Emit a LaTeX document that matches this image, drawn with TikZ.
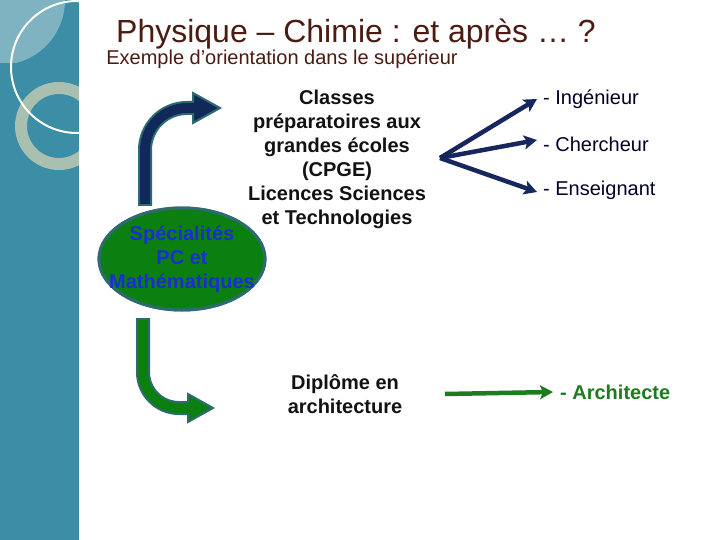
\documentclass[tikz,border=0pt]{standalone}
\usepackage{fontspec}
\setmainfont{Liberation Sans}
\usetikzlibrary{shapes.geometric,arrows.meta}
\definecolor{band}{HTML}{3B8EA5}
\definecolor{bandlight}{HTML}{80B3C1}
\definecolor{ring}{HTML}{A9BFB0}
\definecolor{titlec}{HTML}{4A1C12}
\definecolor{navy}{HTML}{10295A}
\definecolor{edge}{HTML}{2E6B70}
\definecolor{grn}{HTML}{0B7F10}
\definecolor{grnline}{HTML}{1E7B1E}
\definecolor{spblue}{HTML}{1C2ED0}
\definecolor{arrnavy}{HTML}{15275C}
\tikzset{
  txt/.style={font=\fontsize{20}{24}\selectfont, inner sep=0pt},
  boldtxt/.style={font=\fontsize{20}{24}\selectfont\bfseries, inner sep=0pt, align=center, text=black!93},
  navyarrow/.style={draw=arrnavy, line width=4.5pt, -{Stealth[length=13pt,width=14pt,inset=3pt]}},
  greenarrow/.style={draw=grnline, line width=4.5pt, -{Stealth[length=13pt,width=14pt,inset=3pt]}},
}
\begin{document}
\begin{tikzpicture}[x=1pt,y=-1pt]
\useasboundingbox (0,0) rectangle (720,540);
\fill[white] (0,0) rectangle (720,540);
% left decorative band
\fill[band] (0,0) rectangle (79,540);
\begin{scope}
  \clip (0,0) rectangle (79,540);
  \begin{scope}
    \clip (0,0) rectangle (79,63);
    \fill[bandlight] (0,0) -- (65,0) arc[start angle=0, end angle=90, radius=65] -- cycle;
  \end{scope}
  \fill[ring, even odd rule] (59,126) circle[radius=44] (59,126) circle[radius=32];
  \draw[white!96!yellow, line width=2pt] (77,67) circle[radius=66];
\end{scope}
% titles
\node[font=\fontsize{32}{38}\selectfont, text=titlec, inner sep=0pt] (title) at (356,34) {Physique – Chimie : et après … ?};
\node[txt, text=titlec] (subtitle) at (282,59) {Exemple d’orientation dans le supérieur};
% specialty ellipse
\node[ellipse, draw=edge, line width=3pt, fill=grn, minimum width=166pt, minimum height=102pt, inner sep=0pt] (spec) at (182,259) {};
% texts
\node[boldtxt] (cpge) at (337,159) {Classes\\préparatoires aux\\grandes écoles\\(CPGE)\\Licences Sciences\\et Technologies};
\node[boldtxt] (dipl) at (345,394) {Diplôme en\\architecture};
% top curved arrow (navy)
\coordinate (tstart) at (145,206);
\coordinate (tend) at (193,108);
\coordinate (ttip) at (220,108);
\draw[edge, line width=14pt, rounded corners=42pt] (tstart) |- (tend);
\filldraw[fill=navy, draw=edge, line width=2pt, line join=miter] (193,93) -- (ttip) -- (193,123) -- cycle;
\draw[navy, line width=10pt, rounded corners=42pt] (145,204) |- (196,108);
% bottom curved arrow (green)
\coordinate (bstart) at (143,318);
\coordinate (bend) at (188,408);
\coordinate (btip) at (213,408);
\draw[edge, line width=14pt, rounded corners=36pt] (bstart) |- (bend);
\filldraw[fill=grn, draw=edge, line width=2pt, line join=miter] (188,394) -- (btip) -- (188,422) -- cycle;
\draw[grn, line width=10pt, rounded corners=36pt] (143,320) |- (191,408);
% redraw ellipse on top of the top arrow's foot
\node[ellipse, draw=edge, line width=3pt, fill=grn, minimum width=166pt, minimum height=102pt, inner sep=0pt] at (spec) {};
\node[boldtxt, text=spblue] (spectext) at (spec) {Spécialités\\PC et\\Mathématiques};
% career labels
\node[txt, anchor=west, text=black!85!blue] (ing) at (543,99) {- Ingénieur};
\node[txt, anchor=west, text=black!85!blue] (cher) at (543,144) {- Chercheur};
\node[txt, anchor=west, text=black!85!blue] (ens) at (543,190) {- Enseignant};
\node[txt, anchor=west, text=grnline, font=\fontsize{20}{24}\selectfont\bfseries] (archi) at (560,392) {- Architecte};
\coordinate (fork) at (440,158);
\draw[navyarrow] (fork) -- ([xshift=-6pt]ing.west);
\draw[navyarrow] (fork) -- ([xshift=-6pt,yshift=4pt]cher.west);
\draw[navyarrow] (fork) -- ([xshift=-6pt,yshift=-2pt]ens.west);
\coordinate (gstart) at (445,394);
\draw[greenarrow] (gstart) -- ([xshift=-7pt]archi.west);
\end{tikzpicture}
\end{document}
